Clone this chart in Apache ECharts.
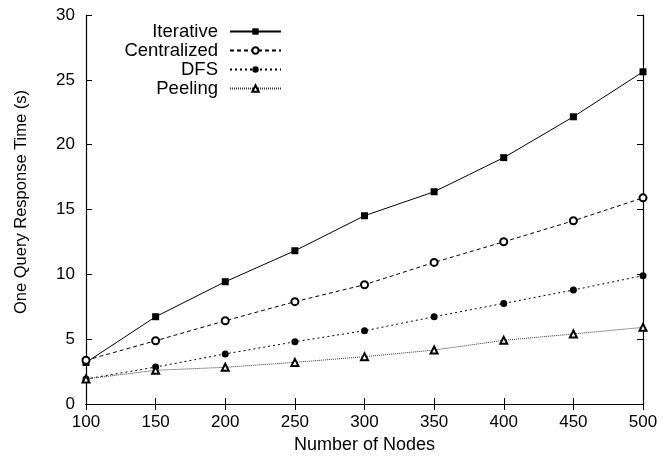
<!DOCTYPE html>
<html>
<head>
<meta charset="utf-8">
<script src="https://cdn.jsdelivr.net/npm/echarts@6/dist/echarts.min.js"></script>
<style>
  html, body { margin: 0; padding: 0; background: #fff; }
  #chart { width: 663px; height: 461px; }
</style>
</head>
<body>
<div id="chart"></div>
<script>
var nodes = [100, 150, 200, 250, 300, 350, 400, 450, 500];
var iterative = [3.2, 6.73, 9.43, 11.82, 14.52, 16.37, 19.0, 22.15, 25.62];
var centralized = [3.37, 4.88, 6.42, 7.89, 9.2, 10.92, 12.51, 14.13, 15.9];
var dfs = [1.93, 2.85, 3.86, 4.8, 5.65, 6.73, 7.76, 8.79, 9.9];
var peeling = [1.93, 2.6, 2.83, 3.21, 3.65, 4.16, 4.91, 5.4, 5.91];

var font = 'Liberation Sans, Arial, sans-serif';

function pairs(ys) {
  var out = [];
  for (var i = 0; i < nodes.length; i++) {
    out.push([nodes[i], ys[i]]);
  }
  return out;
}

function makeSeries(name, ys, symbol, dash, lineColor) {
  return {
    name: name,
    type: 'line',
    data: pairs(ys),
    symbol: symbol,
    symbolSize: 7,
    showSymbol: true,
    itemStyle: {
      color: '#000',
      borderWidth: 0.8
    },
    lineStyle: {
      color: lineColor,
      width: 1,
      type: dash
    },
    emphasis: { disabled: true },
    animation: false
  };
}

var chart = echarts.init(document.getElementById('chart'), null, { renderer: 'canvas' });

var axisCommon = {
  axisLine: { show: true, lineStyle: { color: '#000', width: 1.2 } },
  axisTick: { show: true, inside: true, length: 6, lineStyle: { color: '#000' } },
  splitLine: { show: false }
};

var option = {
  backgroundColor: '#fff',
  animation: false,
  textStyle: { fontFamily: font },
  grid: { left: 86, right: 20, top: 15, bottom: 57, containLabel: false },
  legend: {
    orient: 'vertical',
    right: 381,
    top: 22,
    padding: 0,
    itemGap: 0,
    align: 'right',
    itemWidth: 51,
    itemHeight: 8,
    selectedMode: false,
    textStyle: {
      fontFamily: font,
      fontSize: 18.5,
      lineHeight: 17,
      color: '#000',
      padding: [0, 7, 0, 0]
    },
    data: ['Iterative', 'Centralized', 'DFS', 'Peeling']
  },
  xAxis: [
    Object.assign({
      type: 'value',
      min: 100,
      max: 500,
      interval: 50,
      name: 'Number of Nodes',
      nameLocation: 'middle',
      nameGap: 27,
      nameTextStyle: { fontFamily: font, fontSize: 18, color: '#000' },
      axisLabel: { fontFamily: font, fontSize: 17, color: '#000', margin: 10 }
    }, axisCommon),
    Object.assign({
      type: 'value',
      position: 'top',
      min: 100,
      max: 500,
      interval: 50,
      axisLabel: { show: false }
    }, axisCommon)
  ],
  yAxis: [
    Object.assign({
      type: 'value',
      min: 0,
      max: 30,
      interval: 5,
      name: 'One Query Response Time (s)',
      nameLocation: 'middle',
      nameGap: 56,
      nameTextStyle: { fontFamily: font, fontSize: 16.5, color: '#000', padding: [0, 0, 0, 15] },
      axisLabel: { fontFamily: font, fontSize: 17, color: '#000', margin: 11 }
    }, axisCommon),
    Object.assign({
      type: 'value',
      position: 'right',
      min: 0,
      max: 30,
      interval: 5,
      axisLabel: { show: false }
    }, axisCommon)
  ],
  series: [
    makeSeries('Iterative', iterative, 'rect', 'solid', '#000'),
    makeSeries('Centralized', centralized, 'emptyCircle', [4, 3], '#000'),
    makeSeries('DFS', dfs, 'circle', [2, 3], '#000'),
    makeSeries('Peeling', peeling, 'emptyTriangle', [1, 1], '#333')
  ]
};

chart.setOption(option);
</script>
</body>
</html>
